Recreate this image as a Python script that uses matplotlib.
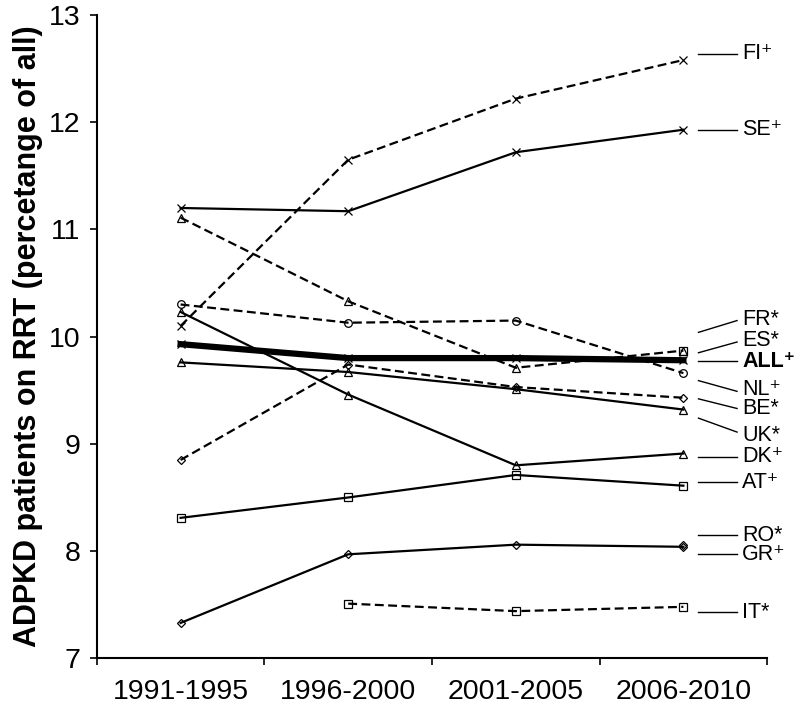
import matplotlib
matplotlib.use("Agg")
import matplotlib.pyplot as plt

# periods on the x axis
periods = ["1991-1995", "1996-2000", "2001-2005", "2006-2010"]

# ADPKD share of RRT patients (%), None = no data
FI = [10.10, 11.65, 12.22, 12.58]
SE = [11.20, 11.17, 11.72, 11.93]
FR = [11.11, 10.33, 9.71, 9.87]
ES = [None, None, None, 9.87]
ALL = [9.93, 9.80, 9.80, 9.78]
NL = [10.30, 10.13, 10.15, 9.66]
BE = [8.85, 9.74, 9.53, 9.43]
UK = [9.76, 9.67, 9.51, 9.32]
DK = [10.23, 9.46, 8.80, 8.91]
AT = [8.31, 8.50, 8.71, 8.61]
RO = [None, None, None, 8.06]
GR = [7.33, 7.97, 8.06, 8.04]
IT = [None, 7.51, 7.44, 7.48]

plt.rcParams['font.family'] = ['Liberation Sans', 'DejaVu Sans']

fig = plt.figure(figsize=(8, 7.14), dpi=100)
ax = fig.add_axes([0.121, 0.078, 0.838, 0.901])

xs = [i + 0.5 for i in range(len(periods))]


def draw(vals, marker, dashed=False, lw=1.6, ms=5.5):
    pts = [(x, v) for x, v in zip(xs, vals) if v is not None]
    px = [p[0] for p in pts]
    py = [p[1] for p in pts]
    ls = (0, (4, 2)) if dashed else '-'
    ax.plot(px, py, color='black', linestyle=ls, linewidth=lw, marker=marker,
            markersize=ms, markerfacecolor='none', markeredgecolor='black',
            markeredgewidth=0.9, clip_on=False)


draw(FI, 'x', dashed=True)
draw(SE, 'x')
draw(FR, '^', dashed=True)
draw(ES, 's', dashed=True)
draw(NL, 'o', dashed=True)
draw(BE, 'D', dashed=True, ms=4.5)
draw(UK, '^')
draw(DK, '^')
draw(AT, 's')
draw(RO, 'D', ms=4.5)
draw(GR, 'D', ms=4.5)
draw(IT, 's', dashed=True)
draw(ALL, 'x', lw=4.5, ms=6)

# country labels on the right with leader lines
P = '\u207a'
labels = [
    ("FI" + P, 12.64, 12.64, 12.64, False),
    ("SE" + P, 11.93, 11.93, 11.93, False),
    ("FR*", 10.04, 10.15, 10.16, False),
    ("ES*", 9.85, 9.95, 9.96, False),
    ("ALL" + P, 9.77, 9.77, 9.77, True),
    ("NL" + P, 9.59, 9.49, 9.51, False),
    ("BE*", 9.42, 9.33, 9.33, False),
    ("UK*", 9.24, 9.11, 9.08, False),
    ("DK" + P, 8.88, 8.88, 8.88, False),
    ("AT" + P, 8.64, 8.64, 8.64, False),
    ("RO*", 8.15, 8.15, 8.15, False),
    ("GR" + P, 7.97, 7.97, 7.97, False),
    ("IT*", 7.43, 7.43, 7.43, False),
]
for name, y0, y1, yt, bold in labels:
    ax.plot([3.59, 3.82], [y0, y1], color='black', linewidth=1.0, clip_on=False)
    ax.text(3.85, yt, name, fontsize=15.5, va='center', ha='left',
            fontweight='bold' if bold else 'normal', clip_on=False)

ax.set_xlim(0, 4)
ax.set_ylim(7, 13)
ax.set_yticks(range(7, 14))
ax.set_xticks(range(0, 5))
ax.set_xticklabels([])
ax.set_xticks(xs, minor=True)
ax.set_xticklabels(periods, minor=True, fontsize=20.5)
ax.tick_params(axis='x', which='minor', length=0, pad=15)
ax.tick_params(axis='x', which='major', length=5, width=1.2, direction='out')
ax.tick_params(axis='y', length=5, width=1.2, direction='out', labelsize=20.5, pad=7)

for s in ['top', 'right']:
    ax.spines[s].set_visible(False)
for s in ['left', 'bottom']:
    ax.spines[s].set_linewidth(1.5)

ax.set_ylabel("ADPKD patients on RRT (percetange of all)", fontsize=22,
              fontweight='bold', labelpad=4)

fig.savefig("out.png", dpi=100)
